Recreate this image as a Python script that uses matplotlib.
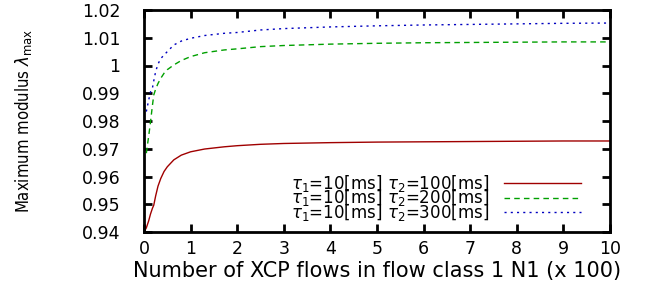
import numpy as np
import matplotlib
matplotlib.use('Agg')
import matplotlib.pyplot as plt

# Values
n_flows = [0.0, 0.05, 0.1, 0.14, 0.18, 0.21, 0.25, 0.3, 0.36, 0.43, 0.5, 0.64, 0.8, 1.0, 1.3, 1.72, 2.0, 2.5, 3.0, 4.0, 5.0, 6.0, 7.0, 8.0, 9.0, 10.0]
lam_100 = [0.940, 0.9415, 0.944, 0.9465, 0.9485, 0.9497, 0.953, 0.9565, 0.9593, 0.9618, 0.9635, 0.966, 0.9677, 0.9689, 0.9699, 0.9707, 0.9711, 0.9716, 0.9719, 0.9722, 0.9724, 0.9725, 0.9726, 0.9727, 0.9728, 0.9728]
lam_200 = [np.nan, 0.9684, 0.9745, 0.9797, 0.9855, 0.9894, 0.9915, 0.9935, 0.9954, 0.9972, 0.9985, 1.0002, 1.0018, 1.0032, 1.0046, 1.0056, 1.006, 1.0068, 1.0072, 1.0077, 1.008, 1.0082, 1.0083, 1.0084, 1.0085, 1.0085]
lam_300 = [np.nan, 0.9834, 0.9875, 0.9905, 0.9918, 0.9945, 0.9978, 1.0005, 1.0025, 1.0038, 1.005, 1.0074, 1.0088, 1.0098, 1.0108, 1.0116, 1.0119, 1.0128, 1.0133, 1.0139, 1.0143, 1.0146, 1.0148, 1.015, 1.0152, 1.0153]

labels = [r'$\tau_1$=10[ms] $\tau_2$=100[ms]',
          r'$\tau_1$=10[ms] $\tau_2$=200[ms]',
          r'$\tau_1$=10[ms] $\tau_2$=300[ms]']
xticks = list(range(0, 11))
yticks = [0.94, 0.95, 0.96, 0.97, 0.98, 0.99, 1.0, 1.01, 1.02]
ytick_labels = ['0.94', '0.95', '0.96', '0.97', '0.98', '0.99', '1', '1.01', '1.02']

plt.rcParams['font.family'] = ['DejaVu Sans']
plt.rcParams['mathtext.fontset'] = 'dejavusans'

fig = plt.figure(figsize=(6.58, 2.82), dpi=100)
ax = fig.add_axes([144 / 658, 1 - 232 / 282, 466 / 658, 222 / 282])

ax.plot(n_flows, lam_100, color='#a00000', lw=1.0, label=labels[0])
ax.plot(n_flows, lam_200, color='#00a000', lw=1.0, ls=(0, (4, 3)), label=labels[1])
ax.plot(n_flows, lam_300, color='#0000c0', lw=1.0, ls=(0, (1.5, 3)), label=labels[2])

ax.set_xlim(0, 10)
ax.set_ylim(0.94, 1.02)
ax.set_xticks(xticks)
ax.set_yticks(yticks)
ax.set_yticklabels(ytick_labels)
ax.tick_params(direction='in', length=6, width=2, top=True, right=True, labelsize=12.5)
ax.tick_params(axis='y', pad=17)
ax.tick_params(axis='x', pad=6)
for s in ax.spines.values():
    s.set_linewidth(2)

ax.set_xlabel('Number of XCP flows in flow class 1 N1 (x 100)', fontsize=15, labelpad=2)
ax.set_ylabel(r'Maximum modulus $\lambda_{\rm max}$', fontsize=12, fontstretch='condensed')
ax.yaxis.set_label_coords(-0.237, 0.5)

ax.legend(loc='lower right', bbox_to_anchor=(0.952, 0.012), markerfirst=False, frameon=False,
          fontsize=12, handlelength=4.6, labelspacing=-0.4, borderaxespad=0.0, handletextpad=0.9)

fig.savefig('out.png', dpi=100)
